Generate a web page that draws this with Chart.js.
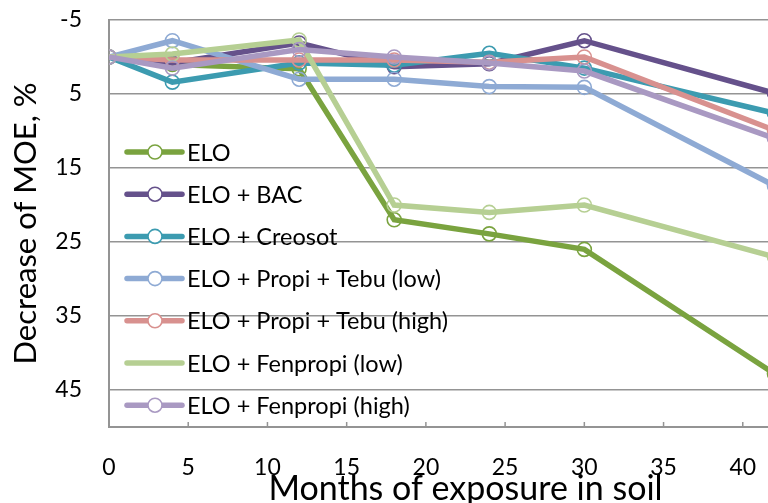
<!DOCTYPE html>
<html>
<head>
<meta charset="utf-8">
<script src="https://cdn.jsdelivr.net/npm/chart.js@4.4.0/dist/chart.umd.min.js"></script>
<style>
  html, body { margin: 0; padding: 0; background: #fff; overflow: hidden; }
  #wrap { width: 840px; height: 503px; position: relative; }
</style>
</head>
<body>
<div id="wrap"><canvas id="moeChart"></canvas></div>
<script>
// months of exposure in soil
const months = [0, 4, 12, 18, 24, 30, 42];

// decrease of MOE, %
const elo            = [0, 1.0, 1.6, 22.0, 23.9, 26.0, 42.8];
const eloBac         = [0, 0.8, -1.9, 1.3, 0.9, -2.2, 4.9];
const eloCreosot     = [0, 3.4, 0.8, 1.1, -0.5, 1.5, 7.6];
const eloPropiLow    = [0, -2.2, 3.0, 3.0, 4.0, 4.1, 17.4];
const eloPropiHigh   = [0, 0.4, 0.4, 0.4, 0.7, 0.0, 9.9];
const eloFenLow      = [0, -0.4, -2.3, 20.0, 21.0, 20.0, 27.0];
const eloFenHigh     = [0, 1.5, -1.0, 0.0, 0.8, 1.9, 11.0];

const seriesNames = ['ELO', 'ELO + BAC', 'ELO + Creosot', 'ELO + Propi + Tebu (low)',
                     'ELO + Propi + Tebu (high)', 'ELO + Fenpropi (low)', 'ELO + Fenpropi (high)'];
const seriesValues = [elo, eloBac, eloCreosot, eloPropiLow, eloPropiHigh, eloFenLow, eloFenHigh];
const seriesColors = ['#7aa33f', '#65518b', '#3c9bb0', '#8eaad4', '#d8918f', '#b6cf93', '#a999c2'];
const legendMarker = [true, true, true, true, true, false, true];

const xTicks = [0, 5, 10, 15, 20, 25, 30, 35, 40, 45];
const yTicks = [-5, 5, 15, 25, 35, 45];

const FONT = 'Lato, "Open Sans", sans-serif';
const GRID = '#949494';

const datasets = seriesNames.map((name, i) => ({
  label: name,
  data: months.map((m, j) => ({ x: m, y: seriesValues[i][j] })),
  borderColor: seriesColors[i],
  backgroundColor: seriesColors[i],
  borderWidth: 5.5,
  pointRadius: 7,
  pointHoverRadius: 7,
  pointBorderWidth: 1.6,
  pointBackgroundColor: 'rgba(0,0,0,0)',
  pointBorderColor: seriesColors[i],
  tension: 0,
  order: seriesNames.length - 1 - i
}));

// legend drawn inside the plot, line + open circle like the original
const insideLegend = {
  id: 'insideLegend',
  afterDatasetsDraw(chart) {
    const { ctx, chartArea } = chart;
    const x0 = chartArea.left + 18;
    const y0 = chartArea.top + 132;
    const step = 42.2;
    ctx.save();
    chart.data.datasets.forEach((ds, i) => {
      const y = y0 + i * step;
      ctx.strokeStyle = ds.borderColor;
      ctx.lineWidth = 5.5;
      ctx.lineCap = 'round';
      ctx.beginPath();
      ctx.moveTo(x0, y);
      ctx.lineTo(x0 + 55, y);
      ctx.stroke();
      if (legendMarker[i]) {
        ctx.beginPath();
        ctx.arc(x0 + 28, y, 7, 0, Math.PI * 2);
        ctx.fillStyle = '#fff';
        ctx.fill();
        ctx.lineWidth = 1.6;
        ctx.stroke();
      }
      ctx.fillStyle = '#000';
      ctx.font = '23.5px ' + FONT;
      ctx.textBaseline = 'middle';
      ctx.textAlign = 'left';
      ctx.fillText(ds.label, x0 + 60, y + 1);
    });
    ctx.restore();
  }
};

// small inward tick marks on the month axis
const innerTicks = {
  id: 'innerTicks',
  afterDraw(chart) {
    const { ctx } = chart;
    const xs = chart.scales.x;
    ctx.save();
    ctx.strokeStyle = GRID;
    ctx.lineWidth = 1.5;
    xTicks.forEach(v => {
      const px = xs.getPixelForValue(v);
      ctx.beginPath();
      ctx.moveTo(px, xs.top);
      ctx.lineTo(px, xs.top - 5);
      ctx.stroke();
    });
    ctx.restore();
  }
};

new Chart(document.getElementById('moeChart'), {
  type: 'line',
  data: { datasets },
  options: {
    responsive: true,
    maintainAspectRatio: false,
    animation: false,
    layout: { padding: { top: 20, right: 18, left: 0, bottom: 0 } },
    plugins: { legend: { display: false }, tooltip: { enabled: false } },
    scales: {
      x: {
        type: 'linear',
        min: 0,
        max: 45,
        afterBuildTicks: (s) => { s.ticks = xTicks.map(v => ({ value: v })); },
        afterFit: (s) => { s.height = 76; },
        grid: { drawOnChartArea: false, drawTicks: true, tickLength: 27, tickColor: 'rgba(0,0,0,0)' },
        border: { display: true, color: GRID, width: 2 },
        ticks: { color: '#000', font: { family: FONT, size: 23 }, padding: 0, maxRotation: 0 },
        title: {
          display: true,
          text: 'Months of exposure in soil',
          color: '#000',
          font: { family: FONT, size: 34, lineHeight: 1 },
          padding: { top: 0, bottom: -3 }
        }
      },
      y: {
        type: 'linear',
        reverse: true,
        min: -5,
        max: 50,
        afterBuildTicks: (s) => { s.ticks = yTicks.map(v => ({ value: v })); },
        afterFit: (s) => { s.width = 109; },
        grid: { drawTicks: true, tickLength: 27, tickColor: 'rgba(0,0,0,0)', color: GRID, lineWidth: 1.5 },
        border: { display: true, color: GRID, width: 2 },
        ticks: { color: '#000', font: { family: FONT, size: 23 }, padding: 0 },
        title: {
          display: true,
          text: 'Decrease of MOE, %',
          color: '#000',
          font: { family: FONT, size: 31, lineHeight: 1 },
          padding: { top: 10, bottom: 0 }
        }
      }
    }
  },
  plugins: [insideLegend, innerTicks]
});
</script>
</body>
</html>
